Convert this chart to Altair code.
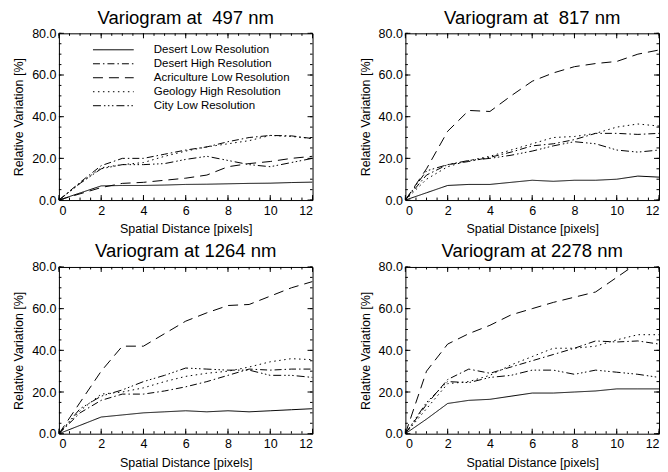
import altair as alt
import pandas as pd

x_vals = list(range(13))
series_names = [
    "Desert Low Resolution",
    "Desert High Resolution",
    "Acriculture Low Resolution",
    "Geology High Resolution",
    "City Low Resolution",
]
dash_styles = [
    [1, 0],
    [7, 3, 1.5, 3],
    [10, 6],
    [1.5, 3.5],
    [8, 3, 1.5, 2.5, 1.5, 2.5, 1.5, 3],
]

# ---- 497 nm ----
w497_desert_low = [0, 3.4, 6.8, 7.0, 7.0, 7.2, 7.5, 7.6, 7.8, 8.0, 8.1, 8.4, 8.6]
w497_desert_high = [0, 8.5, 16.5, 20.0, 20.0, 22.0, 24.0, 25.5, 28.0, 30.0, 31.0, 30.8, 29.5]
w497_agri_low = [0, 3.0, 6.0, 8.0, 8.5, 9.5, 10.5, 12.0, 16.0, 17.5, 18.5, 20.0, 21.0]
w497_geology_high = [0, 8.0, 15.5, 17.0, 18.0, 21.0, 23.5, 25.5, 27.0, 28.5, 31.0, 30.5, 29.5]
w497_city_low = [0, 8.0, 15.0, 17.0, 17.0, 17.5, 19.5, 21.0, 19.0, 17.0, 16.0, 18.0, 20.0]

# ---- 817 nm ----
w817_desert_low = [0, 3.5, 7.0, 7.5, 7.5, 8.5, 9.5, 9.0, 9.5, 9.5, 10.0, 11.5, 11.0]
w817_desert_high = [0, 12.0, 17.0, 18.5, 20.5, 23.0, 26.0, 27.0, 29.0, 32.0, 32.0, 31.5, 32.0]
w817_agri_low = [0, 15.0, 33.0, 43.0, 42.5, 50.0, 57.0, 61.0, 64.0, 65.5, 66.5, 70.0, 72.0]
w817_geology_high = [0, 10.0, 16.0, 19.0, 21.0, 24.0, 27.0, 30.0, 30.5, 32.0, 35.0, 36.5, 35.5]
w817_city_low = [0, 14.0, 17.0, 19.0, 20.0, 21.5, 23.5, 26.0, 28.0, 27.0, 24.0, 23.0, 24.0]

# ---- 1264 nm ----
w1264_desert_low = [0, 4.0, 8.0, 9.0, 10.0, 10.5, 11.0, 10.5, 11.0, 10.5, 11.0, 11.5, 12.0]
w1264_desert_high = [0, 10.0, 16.0, 19.0, 19.0, 20.5, 22.5, 25.0, 28.0, 31.0, 30.5, 31.0, 31.0]
w1264_agri_low = [0, 15.0, 30.0, 42.0, 42.0, 48.0, 54.0, 58.0, 61.5, 62.0, 66.0, 70.0, 73.0]
w1264_geology_high = [0, 11.0, 19.0, 20.0, 22.0, 25.0, 27.5, 29.0, 30.0, 32.0, 34.5, 36.0, 35.5]
w1264_city_low = [0, 12.0, 18.0, 21.0, 25.0, 28.0, 31.5, 31.0, 30.5, 30.5, 28.0, 28.0, 27.0]

# ---- 2278 nm ----
w2278_desert_low = [0, 7.0, 14.5, 16.0, 16.5, 18.0, 19.5, 19.5, 20.0, 20.5, 21.5, 21.5, 21.5]
w2278_desert_high = [0, 14.0, 26.0, 31.0, 29.0, 32.0, 35.0, 38.0, 41.0, 44.5, 44.0, 44.5, 43.0]
w2278_agri_low = [0, 30.0, 43.0, 48.0, 52.0, 57.0, 60.0, 63.0, 65.5, 68.0, 75.0, 82.0, 88.0]
w2278_geology_high = [0, 12.0, 24.0, 25.0, 28.0, 33.0, 37.0, 41.0, 41.0, 42.0, 45.0, 47.5, 47.5]
w2278_city_low = [0, 15.0, 25.0, 24.5, 27.0, 28.0, 30.5, 30.5, 28.5, 30.5, 29.5, 28.5, 27.0]

panels = [
    ("Variogram at\u00a0 497 nm", [w497_desert_low, w497_desert_high, w497_agri_low, w497_geology_high, w497_city_low]),
    ("Variogram at\u00a0 817 nm", [w817_desert_low, w817_desert_high, w817_agri_low, w817_geology_high, w817_city_low]),
    ("Variogram at 1264 nm", [w1264_desert_low, w1264_desert_high, w1264_agri_low, w1264_geology_high, w1264_city_low]),
    ("Variogram at 2278 nm", [w2278_desert_low, w2278_desert_high, w2278_agri_low, w2278_geology_high, w2278_city_low]),
]

x_major_ticks = [0, 2, 4, 6, 8, 10, 12]
x_minor_ticks = [0.5 * i for i in range(25)]
y_major_ticks = [0, 20, 40, 60, 80]
y_minor_ticks = [5 * i for i in range(17)]

W, H = 254, 167
FONT = "Liberation Sans"
xscale = alt.Scale(domain=[0, 12], nice=False, zero=False)
yscale = alt.Scale(domain=[0, 80], nice=False, zero=False)
xaxis = alt.Axis(title="Spatial Distance [pixels]", values=x_major_ticks, format="d",
                 labelPadding=4, titlePadding=6)
yaxis = alt.Axis(title="Relative Variation [%]", values=y_major_ticks, format=".1f",
                 labelPadding=3, titlePadding=6)


def panel(title, series, show_legend):
    rows = []
    for name, vals in zip(series_names, series):
        for xv, yv in zip(x_vals, vals):
            rows.append({"x": xv, "y": yv, "series": name})
    df = pd.DataFrame(rows)
    if show_legend:
        legend = alt.Legend(
            title=None, orient="none", legendX=48, legendY=10,
            symbolType="M-3.4,0H3.4", symbolSize=144, symbolStrokeWidth=1,
            symbolStrokeColor="black", symbolFillColor="transparent",
            labelOffset=34, labelFont=FONT, labelFontSize=11.5, labelColor="black",
            rowPadding=2, padding=0,
        )
    else:
        legend = None
    lines = alt.Chart(df).mark_line(color="black", strokeWidth=1, clip=True).encode(
        x=alt.X("x:Q", scale=xscale, axis=xaxis),
        y=alt.Y("y:Q", scale=yscale, axis=yaxis),
        strokeDash=alt.StrokeDash("series:N", scale=alt.Scale(domain=series_names, range=dash_styles),
                                  legend=legend),
        order=alt.Order("x:Q"),
    )
    layers = [lines]
    for vals, ln in ((x_major_ticks, 5), (x_minor_ticks, 2.5)):
        d = pd.DataFrame({"x": vals})
        layers.append(alt.Chart(d).mark_rule(color="black", strokeWidth=1).encode(
            x=alt.X("x:Q", scale=xscale, axis=xaxis), y=alt.value(H), y2=alt.value(H - ln)))
        layers.append(alt.Chart(d).mark_rule(color="black", strokeWidth=1).encode(
            x=alt.X("x:Q", scale=xscale, axis=xaxis), y=alt.value(0), y2=alt.value(ln)))
    for vals, ln in ((y_major_ticks, 5), (y_minor_ticks, 2.5)):
        d = pd.DataFrame({"y": vals})
        layers.append(alt.Chart(d).mark_rule(color="black", strokeWidth=1).encode(
            y=alt.Y("y:Q", scale=yscale, axis=yaxis), x=alt.value(0), x2=alt.value(ln)))
        layers.append(alt.Chart(d).mark_rule(color="black", strokeWidth=1).encode(
            y=alt.Y("y:Q", scale=yscale, axis=yaxis), x=alt.value(W), x2=alt.value(W - ln)))
    return alt.layer(*layers).properties(
        width=W, height=H, title=alt.Title(title, offset=0)
    )


charts = [panel(t, s, i == 0) for i, (t, s) in enumerate(panels)]
row1 = alt.hconcat(charts[0], charts[1], spacing=45)
row2 = alt.hconcat(charts[2], charts[3], spacing=45)
chart = alt.vconcat(row1, row2, spacing=6).resolve_legend(strokeDash="independent").properties(
    padding={"left": 4, "top": 0, "right": 0, "bottom": 0}
).configure_view(stroke="black", strokeWidth=1).configure_axis(
    domain=False, ticks=False, grid=False,
    labelFont=FONT, labelFontSize=12.5, labelColor="black",
    titleFont=FONT, titleFontSize=12.5, titleFontWeight="normal", titleColor="black",
).configure_title(font=FONT, fontSize=18.5, fontWeight="normal", color="black", anchor="middle")

chart.save("out.html", embed_options={"renderer": "svg", "actions": False})
